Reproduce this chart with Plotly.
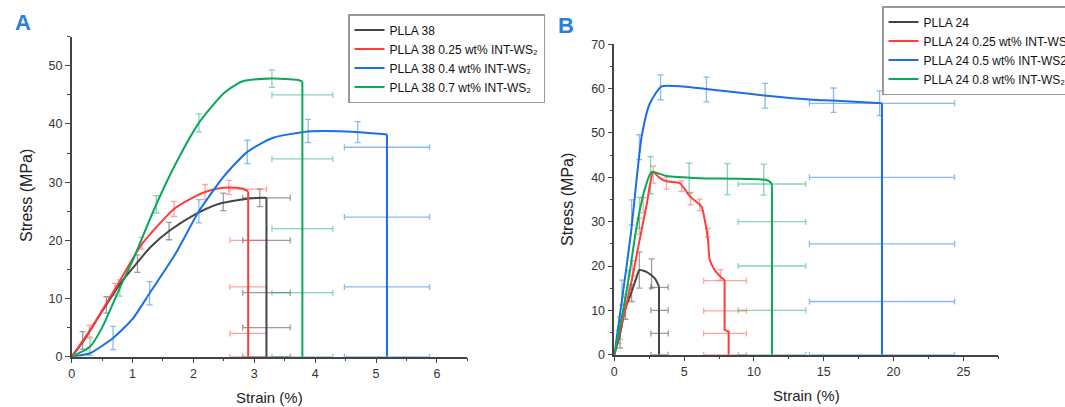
import plotly.graph_objects as go

# ---------------- Panel A data (PLLA 38) ----------------
a_names = ["PLLA 38", "PLLA 38 0.25 wt% INT-WS₂",
           "PLLA 38 0.4 wt% INT-WS₂", "PLLA 38 0.7 wt% INT-WS₂"]
a_colors = ["#454545", "#ff3b3b", "#1a6fe3", "#0aa85a"]
a_ecolors = ["rgba(90,90,90,0.6)", "rgba(255,90,90,0.55)", "rgba(40,130,230,0.55)", "rgba(20,170,100,0.5)"]

# smooth rising part of each curve
a0_x = [0, 0.2, 0.5, 0.8, 1.0, 1.3, 1.6, 2.0, 2.4, 2.8, 3.1, 3.2]
a0_y = [0, 2.8, 7.8, 12.6, 15.2, 18.9, 21.6, 24.3, 26.2, 27.0, 27.3, 27.3]
a1_x = [0, 0.29, 0.71, 1.15, 1.68, 2.0, 2.19, 2.4, 2.6, 2.8, 2.9]
a1_y = [0, 4.4, 11.6, 19.3, 25.4, 27.4, 28.3, 28.9, 29.1, 28.9, 28.4]
a2_x = [0, 0.3, 0.68, 1.0, 1.28, 1.7, 2.09, 2.5, 2.885, 3.3, 3.885, 4.5, 5.18]
a2_y = [0, 0.6, 3.2, 6.5, 10.9, 17.6, 25.0, 31.0, 35.2, 37.6, 38.7, 38.7, 38.2]
a3_x = [0, 0.3, 0.5, 0.79, 1.0, 1.39, 1.7, 2.09, 2.5, 2.8, 3.29, 3.7, 3.79]
a3_y = [0, 1.7, 5.0, 11.8, 16.5, 26.2, 33.0, 40.2, 45.3, 47.3, 47.8, 47.6, 47.3]
a_curves_x = [a0_x, a1_x, a2_x, a3_x]
a_curves_y = [a0_y, a1_y, a2_y, a3_y]
# failure (drop) segments
a_drop_x = [[3.2, 3.2], [2.9, 2.9], [5.18, 5.18], [3.79, 3.79]]
a_drop_y = [[27.3, 0], [28.4, 0], [38.2, 0], [47.3, 0]]

# vertical error bars along curves (x, y, err)
a_ve_x = [[0.18, 0.57, 1.08, 1.6, 2.49, 3.09],
          [0.29, 0.71, 1.15, 1.68, 2.19, 2.58],
          [0.68, 1.28, 2.09, 2.885, 3.885, 4.7],
          [0.3, 0.79, 1.39, 2.09, 3.29]]
a_ve_y = [[2.8, 8.9, 16.0, 21.6, 26.6, 27.3],
          [4.4, 11.6, 19.5, 25.4, 28.3, 29.1],
          [3.2, 10.9, 25.0, 35.2, 38.8, 38.6],
          [1.7, 11.8, 26.2, 40.2, 47.8]]
a_ve_e = [[1.5, 1.4, 1.5, 1.5, 1.5, 1.5],
          [1.0, 1.0, 1.0, 1.3, 1.3, 1.2],
          [2.0, 2.0, 2.0, 2.0, 2.0, 1.8],
          [1.5, 1.4, 1.5, 1.55, 1.5]]
# horizontal error bars at failure strain
a_he_x = [3.2, 2.9, 5.18, 3.79]
a_he_y = [[27.3, 20, 11, 5, 0], [28.8, 20, 12, 4, 0], [36, 24, 12, 0], [45, 34, 22, 11, 0]]
a_he_e = [0.39, 0.3, 0.7, 0.5]

# ---------------- Panel B data (PLLA 24) ----------------
b_names = ["PLLA 24", "PLLA 24 0.25 wt% INT-WS₂",
           "PLLA 24 0.5 wt% INT-WS2", "PLLA 24 0.8 wt% INT-WS₂"]
b_colors = a_colors
b_ecolors = a_ecolors

b0_x = [0, 0.4, 0.76, 1.24, 1.6, 1.79, 2.31, 2.9, 3.2]
b0_y = [0, 4.5, 10.1, 14.2, 17.5, 19.1, 18.7, 17.2, 15.4]
b1_x = [0, 0.5, 1.2, 1.79, 2.3, 2.79, 3.2, 3.74, 4.69, 5.41, 6.24, 6.5, 6.71, 6.83, 7.19, 7.6, 7.9]
b1_y = [0, 6.5, 16.0, 25.5, 33.5, 41.2, 40.0, 39.1, 38.7, 35.7, 33.4, 30.0, 25.9, 21.4, 19.1, 17.6, 16.9]
b2_x = [0, 0.6, 1.19, 1.96, 2.55, 3.39, 4.93, 6.6, 8.03, 10.9, 14.2, 15.6, 19.17]
b2_y = [0, 13.5, 27.4, 49.2, 56.7, 60.5, 60.5, 59.9, 59.4, 58.4, 57.5, 57.3, 56.7]
b3_x = [0, 0.6, 1.1, 1.6, 2.2, 2.67, 3.74, 6.12, 10.9, 11.24, 11.29]
b3_y = [0, 9.5, 18.5, 28.9, 37.5, 41.2, 40.3, 39.8, 39.4, 38.7, 38.0]
b_curves_x = [b0_x, b1_x, b2_x, b3_x]
b_curves_y = [b0_y, b1_y, b2_y, b3_y]
b_drop_x = [[3.2, 3.2], [7.9, 7.9, 8.19, 8.19], [19.17, 19.17], [11.29, 11.29]]
b_drop_y = [[15.4, 0], [16.9, 5.6, 5.2, 0], [56.7, 0], [38.0, 0]]

b_ve_x = [[0.41, 0.8, 1.24, 1.79, 2.67],
          [0.3, 0.8, 1.3, 1.79, 2.07, 2.79, 3.74, 4.81, 5.46, 6.12, 6.71, 7.6],
          [0.55, 1.24, 1.79, 3.31, 6.6, 10.8, 15.7, 19.0],
          [0.4, 1.0, 1.8, 2.6, 5.36, 8.1, 10.7]]
b_ve_y = [[3.9, 10.5, 13.9, 19.1, 18.3],
          [4.0, 12.0, 19.5, 29.0, 33.7, 40.6, 38.7, 38.0, 35.2, 33.8, 27.5, 18.0],
          [14.0, 32.1, 46.8, 60.3, 59.8, 58.4, 57.4, 56.7],
          [6.0, 16.0, 32.0, 40.5, 39.8, 39.6, 39.5]]
b_ve_e = [[2.4, 2.5, 1.9, 4.1, 3.3],
          [1.5, 1.6, 1.7, 1.8, 1.7, 1.9, 1.35, 1.2, 1.4, 1.3, 1.0, 1.2],
          [2.8, 2.8, 2.8, 2.8, 2.8, 2.8, 2.75, 2.8],
          [2.5, 3.0, 3.5, 4.2, 3.4, 3.5, 3.5]]
b_he_x = [3.24, 7.93, 19.17, 11.29]
b_he_y = [[15.2, 10, 4.8, 0], [16.7, 9.9, 4.8, 0], [56.7, 40, 25, 12, 0], [38.5, 30, 20, 10, 0]]
b_he_e = [0.62, 1.53, 5.2, 2.42]

fig = go.Figure()


def add_panel(xa, ya, leg, names, colors, ecolors, cx, cy, dx, dy, vex, vey, vee, hex_, hey, hee):
    for i in range(4):
        fig.add_trace(go.Scatter(
            x=vex[i], y=vey[i], mode="markers", xaxis=xa, yaxis=ya,
            marker=dict(size=1, opacity=0), showlegend=False, hoverinfo="skip",
            error_y=dict(type="data", array=vee[i], color=ecolors[i], thickness=1.3, width=3)))
        fig.add_trace(go.Scatter(
            x=[hex_[i]] * len(hey[i]), y=hey[i], mode="markers", xaxis=xa, yaxis=ya,
            marker=dict(size=1, opacity=0), showlegend=False, hoverinfo="skip",
            error_x=dict(type="data", array=[hee[i]] * len(hey[i]), color=ecolors[i], thickness=1.3, width=3)))
    for i in range(4):
        fig.add_trace(go.Scatter(
            x=dx[i], y=dy[i], mode="lines", xaxis=xa, yaxis=ya, showlegend=False,
            hoverinfo="skip", line=dict(color=colors[i], width=2)))
        fig.add_trace(go.Scatter(
            x=cx[i], y=cy[i], mode="lines", xaxis=xa, yaxis=ya, name=names[i], legend=leg,
            line=dict(color=colors[i], width=2, shape="spline", smoothing=0.6)))


add_panel("x", "y", "legend", a_names, a_colors, a_ecolors, a_curves_x, a_curves_y,
          a_drop_x, a_drop_y, a_ve_x, a_ve_y, a_ve_e, a_he_x, a_he_y, a_he_e)
add_panel("x2", "y2", "legend2", b_names, b_colors, b_ecolors, b_curves_x, b_curves_y,
          b_drop_x, b_drop_y, b_ve_x, b_ve_y, b_ve_e, b_he_x, b_he_y, b_he_e)

W, H = 1065, 407
axis_common = dict(showline=True, linecolor="#444", linewidth=1.5, ticks="outside",
                   ticklen=5, tickwidth=1.2, tickcolor="#444", showgrid=False, zeroline=False,
                   automargin=False,
                   tickfont=dict(family="Liberation Sans, Arial", size=12.5, color="#333"))


def ann(text, x, y, size, color="#222", angle=0):
    return dict(text=text, x=x / W, y=1 - y / H, xref="paper", yref="paper",
                xanchor="center", yanchor="middle", textangle=angle, showarrow=False,
                font=dict(size=size, color=color, family="Liberation Sans, Arial"))


fig.update_layout(
    width=W, height=H, margin=dict(l=0, r=0, t=0, b=0, autoexpand=False),
    paper_bgcolor="white", plot_bgcolor="white",
    font=dict(family="Liberation Sans, Arial", color="#222"),
    xaxis=dict(domain=[71.7 / W, 467.3 / W], range=[0, 6.5], dtick=1,
               minor=dict(dtick=0.5, ticks="outside", ticklen=3, tickcolor="#444"),
               anchor="y", **axis_common),
    yaxis=dict(domain=[(H - 356.7) / H, (H - 36.7) / H], range=[0, 55], dtick=10,
               minor=dict(dtick=5, ticks="outside", ticklen=3, tickcolor="#444"),
               anchor="x", **axis_common),
    xaxis2=dict(domain=[614.3 / W, 998.3 / W], range=[0, 27.5], dtick=5,
                minor=dict(dtick=2.5, ticks="outside", ticklen=3, tickcolor="#444"),
                anchor="y2", **axis_common),
    yaxis2=dict(domain=[(H - 354.7) / H, (H - 44.3) / H], range=[0, 70], dtick=10,
                minor=dict(dtick=5, ticks="outside", ticklen=3, tickcolor="#444"),
                anchor="x2", **axis_common),
    legend=dict(x=348 / W, y=1 - 14 / H, xanchor="left", yanchor="top",
                bgcolor="white", bordercolor="#999", borderwidth=1.5,
                font=dict(size=12, color="#111"), tracegroupgap=0, itemwidth=30),
    legend2=dict(x=882 / W, y=1 - 6 / H, xanchor="left", yanchor="top",
                 bgcolor="white", bordercolor="#999", borderwidth=1.5,
                 font=dict(size=12, color="#111"), tracegroupgap=0, itemwidth=30),
    annotations=[
        ann("<b>A</b>", 23, 22, 22, "#2a7fd8"),
        ann("<b>B</b>", 566, 26, 22, "#2a7fd8"),
        ann("Stress (MPa)", 26, 196, 16, angle=-90),
        ann("Stress (MPa)", 567, 200, 16, angle=-90),
        ann("Strain (%)", 269, 397, 15),
        ann("Strain (%)", 806, 395, 15),
    ],
)

fig.write_html("out.html", config={"displayModeBar": False},
               post_script="document.body.style.margin='0';document.body.style.overflow='hidden';")
